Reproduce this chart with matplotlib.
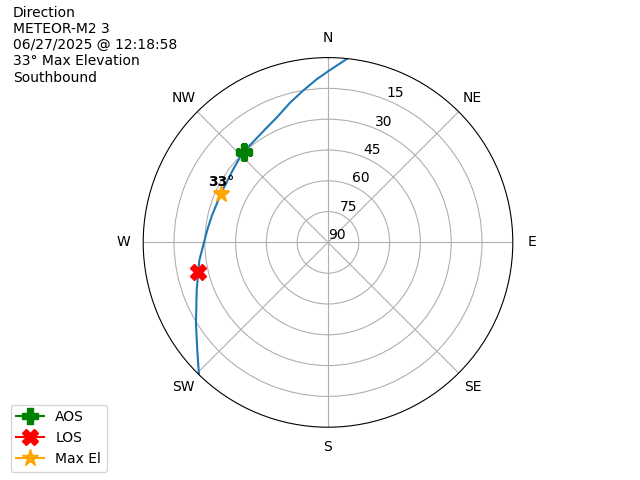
import numpy as np
import matplotlib
matplotlib.use("Agg")
import matplotlib.pyplot as plt

# Pass track (azimuth in degrees, elevation in degrees)
track_az = [366.0, 360.1, 356.0, 350.8, 344.8, 337.6, 330.9, 321.3, 315.0, 307.1,
            294.5, 283.1, 276.5, 270.0, 262.0, 249.9, 238.4, 230.4, 224.3]
track_el = [0.0, 6.6, 10.4, 15.0, 19.5, 24.3, 27.0, 29.3, 30.1, 31.8,
            32.7, 32.0, 31.0, 29.6, 26.7, 21.9, 14.5, 7.4, 0.0]

aos_az, aos_el = 317.2, 30.0
los_az, los_el = 257.0, 25.0
max_az, max_el = 294.5, 32.7
max_label = "33°"

dir_angles = [0, 45, 90, 135, 180, 225, 270, 315]
dir_labels = ["N", "NE", "E", "SE", "S", "SW", "W", "NW"]
r_ticks = [0, 15, 30, 45, 60, 75]
r_tick_labels = ["90", "75", "60", "45", "30", "15"]

title_lines = ["Direction", "METEOR-M2 3", "06/27/2025 @ 12:18:58",
               "33° Max Elevation", "Southbound"]

fig = plt.figure(figsize=(6.4, 4.8), dpi=100)
ax = fig.add_subplot(111, projection="polar")
ax.set_theta_zero_location("N")
ax.set_theta_direction(-1)

def r_of(el):
    return 90 - np.asarray(el, dtype=float)

ax.plot(np.radians(track_az), r_of(track_el), color="#1f77b4", linewidth=1.5)
ax.plot([np.radians(aos_az)], [r_of(aos_el)], marker="P", color="green",
        markersize=12, label="AOS")
ax.plot([np.radians(los_az)], [r_of(los_el)], marker="X", color="red",
        markersize=12, label="LOS")
ax.plot([np.radians(max_az)], [r_of(max_el)], marker="*", color="orange",
        markersize=12.5, label="Max El")
ax.annotate(max_label, (np.radians(max_az), r_of(max_el)), xytext=(0, 3),
            textcoords="offset points", ha="center", va="bottom",
            fontsize=10, fontweight="bold")

ax.set_rlim(0, 90)
ax.set_rticks(r_ticks)
ax.set_yticklabels(r_tick_labels)
ax.set_thetagrids(dir_angles, dir_labels)
ax.grid(True)

fig.text(0.02, 0.988, "\n".join(title_lines), ha="left", va="top", fontsize=10)
fig.legend(loc="lower left", bbox_to_anchor=(0.0167, 0.0173), borderaxespad=0)

fig.savefig("out.png", dpi=100)
